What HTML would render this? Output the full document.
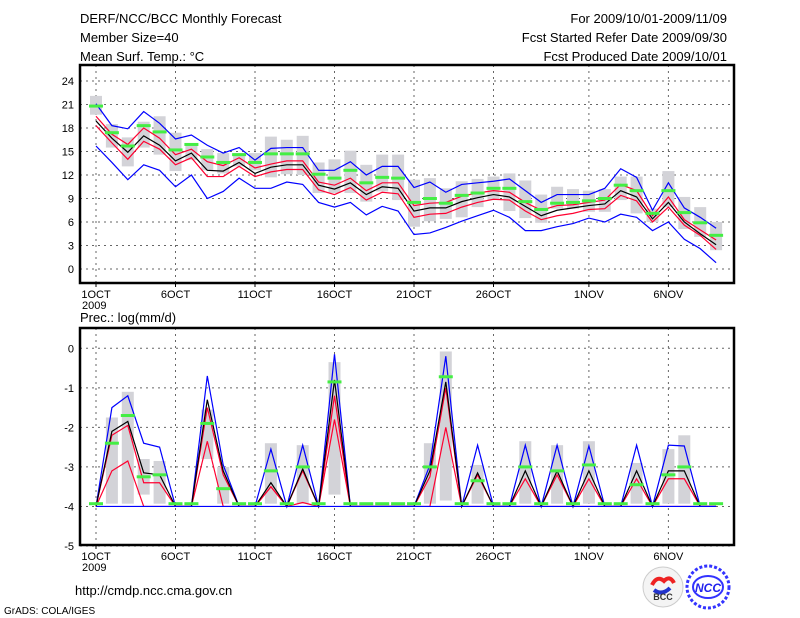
<!DOCTYPE html>
<html><head><meta charset="utf-8"><style>
html,body{margin:0;padding:0;background:#fff}
svg{display:block;font-family:"Liberation Sans",sans-serif}
</style></head><body>
<svg id="chart" width="800" height="618" viewBox="0 0 800 618" xmlns="http://www.w3.org/2000/svg">
<g font-size="13" fill="#000">
<text x="80" y="23">DERF/NCC/BCC Monthly Forecast</text>
<text x="80" y="42">Member Size=40</text>
<text x="80" y="61">Mean Surf. Temp.: °C</text>
<text x="727" y="23" text-anchor="end">For 2009/10/01-2009/11/09</text>
<text x="727" y="42" text-anchor="end">Fcst Started Refer Date 2009/09/30</text>
<text x="727" y="61" text-anchor="end">Fcst Produced Date 2009/10/01</text>
<text x="80" y="322">Prec.: log(mm/d)</text>
<text x="75" y="595" font-size="13">http://cmdp.ncc.cma.gov.cn</text>
<text x="4" y="614" font-size="10">GrADS: COLA/IGES</text>
</g>
<g id="top"></g>
<g id="bot"></g>
<g>
<circle cx="663" cy="587" r="20" fill="#f4f4f4" stroke="#ccc"/>
<path d="M652 585 q5 -10 12 -4 q6 -6 10 2" stroke="#e22" stroke-width="4" fill="none"/>
<path d="M654 590 q8 6 16 -2" stroke="#23c" stroke-width="4" fill="none"/>
<text x="663" y="600" font-size="9" font-weight="bold" text-anchor="middle" fill="#333">BCC</text>
</g>
<g>
<circle cx="708" cy="587" r="21" fill="none" stroke="#33f" stroke-width="3" stroke-dasharray="3 2"/>
<ellipse cx="708" cy="587" rx="15" ry="11" fill="none" stroke="#33f" stroke-width="2"/>
<text x="708" y="592" font-size="12" font-weight="bold" font-style="italic" text-anchor="middle" fill="#22e">NCC</text>
</g>
</svg>
<script>
// ---- Temperature data (40 days from 1 Oct) ----
const days = 40;
const dateLabels = ["1OCT","6OCT","11OCT","16OCT","21OCT","26OCT","1NOV","6NOV"];
const dateIdx = [0,5,10,15,20,25,31,36];
const tTicks = [0,3,6,9,12,15,18,21,24];
const tMean = [18.9,16.7,14.9,17.0,15.8,13.8,14.8,12.6,12.5,13.6,12.2,13.0,13.3,13.3,10.7,10.2,11.0,9.5,10.5,10.3,7.4,7.8,7.8,8.6,9.1,9.5,9.2,8.0,6.8,7.5,7.8,8.1,8.3,10.0,9.2,6.4,8.5,6.0,4.5,3.1];
const tRedHi = [19.5,17.2,15.9,18.0,16.7,14.6,15.3,13.7,13.2,14.2,12.9,13.4,13.8,13.8,11.1,10.7,11.6,10.0,11.0,11.0,8.1,8.4,8.5,9.3,9.7,10.0,9.8,8.5,7.5,8.1,8.2,8.5,8.8,10.8,10.0,6.8,9.2,6.3,5.0,3.7];
const tRedLo = [18.3,16.1,14.0,16.3,15.3,13.3,14.2,11.8,11.8,13.1,11.8,12.4,12.7,12.7,10.1,9.5,10.4,8.8,9.8,9.6,6.6,7.0,7.1,7.9,8.5,8.9,8.8,7.4,6.3,6.8,7.1,7.6,7.7,9.4,8.7,6.0,7.9,5.6,4.3,2.5];
const tBlueHi = [21.1,18.3,17.9,20.1,18.6,16.6,17.1,15.8,14.8,15.5,13.9,15.4,15.5,15.5,12.6,12.6,13.7,12.0,13.1,13.1,10.4,11.1,9.8,10.8,11.0,11.2,11.5,10.0,8.5,9.5,9.5,9.5,10.3,12.8,11.7,7.5,11.0,7.8,6.6,5.2];
const tBlueLo = [15.7,13.6,11.4,13.3,12.6,10.5,12.0,9.0,9.9,11.6,10.3,10.3,11.1,10.8,8.5,7.9,8.5,6.9,8.0,7.4,4.4,4.6,5.3,6.1,6.8,7.5,6.6,4.9,4.9,5.4,5.8,6.5,6.0,7.0,6.6,4.9,6.0,3.8,2.6,0.8];
const tGreen = [20.8,17.4,15.7,18.3,17.5,15.2,15.9,14.3,13.6,14.6,13.6,14.7,14.7,14.7,12.1,11.6,12.6,11.0,11.7,11.6,8.5,9.0,8.4,9.4,9.7,10.3,10.3,8.6,7.6,8.4,8.5,8.7,9.0,10.7,10.0,7.1,10.0,7.2,5.9,4.3];
const tBoxHi = [22.1,18.5,16.8,18.8,19.5,17.4,16.0,15.3,14.8,14.8,14.8,16.9,16.5,17.0,13.6,14.0,15.1,13.3,14.6,14.6,11.4,11.6,10.3,11.2,11.5,11.8,12.2,11.3,9.5,10.5,10.2,10.0,10.2,11.8,11.8,7.7,12.5,9.2,7.9,6.0];
const tBoxLo = [19.7,15.5,13.1,15.5,14.6,12.5,13.9,12.6,12.2,13.1,12.6,11.7,12.1,12.0,9.7,9.7,9.7,8.6,9.9,8.8,5.4,6.1,6.4,6.6,7.9,8.8,7.4,6.5,5.9,7.7,7.7,7.3,7.3,8.8,7.1,6.0,7.9,5.1,4.1,2.4];
// ---- Precipitation data (log mm/d) ----
const pTicks = [0,-1,-2,-3,-4,-5];
const pMean = [-4,-2.1,-1.85,-3.15,-3.2,-4,-4,-1.3,-3.1,-4,-4,-3.4,-4,-3.05,-4,-0.8,-4,-4,-4,-4,-4,-3.1,-0.85,-4,-3.15,-4,-4,-3.1,-4,-3.1,-4,-3.1,-4,-4,-3.1,-4,-3.1,-3.1,-4,-4];
const pRedHi = [-4,-2.2,-1.95,-3.4,-3.4,-4,-4,-1.5,-3.2,-4,-4,-3.5,-4,-3.1,-4,-1.2,-4,-4,-4,-4,-4,-3.25,-1.0,-4,-3.2,-4,-4,-3.3,-4,-3.2,-4,-3.3,-4,-4,-3.3,-4,-3.3,-3.3,-4,-4];
const pRedLo = [-4,-3.1,-2.85,-4,-4,-4,-4,-2.35,-4,-4,-4,-3.5,-4,-3.9,-4,-1.8,-4,-4,-4,-4,-4,-4,-2.0,-4,-4,-4,-4,-4,-4,-4,-4,-4,-4,-4,-4,-4,-4,-4,-4,-4];
const pBlueHi = [-4,-1.5,-1.2,-2.4,-2.5,-4,-4,-0.7,-2.95,-4,-4,-2.55,-4,-2.45,-4,-0.15,-4,-4,-4,-4,-4,-2.95,-0.2,-4,-2.45,-4,-4,-2.45,-4,-2.45,-4,-2.47,-4,-4,-2.45,-4,-2.45,-2.47,-4,-4];
const pBlueLo = [-4,-4,-4,-4,-4,-4,-4,-4,-4,-4,-4,-4,-4,-4,-4,-4,-4,-4,-4,-4,-4,-4,-4,-4,-4,-4,-4,-4,-4,-4,-4,-4,-4,-4,-4,-4,-4,-4,-4,-4];
const pGreen = [-3.93,-2.4,-1.7,-3.25,-3.2,-3.93,-3.93,-1.9,-3.55,-3.93,-3.93,-3.1,-3.93,-3.0,-3.93,-0.85,-3.93,-3.93,-3.93,-3.93,-3.93,-3.0,-0.72,-3.93,-3.35,-3.93,-3.93,-3.0,-3.93,-3.1,-3.93,-2.95,-3.93,-3.93,-3.45,-3.93,-3.2,-3.0,-3.93,-3.93];
const pBoxHi = [null,-1.75,-1.1,-2.8,-2.85,null,null,-1.55,-3.0,null,null,-2.4,null,-2.45,null,-0.35,null,null,null,null,null,-2.4,-0.08,null,-2.95,null,null,-2.35,null,-2.45,null,-2.35,null,null,-2.9,null,-2.55,-2.2,null,null];
const pBoxLo = [null,-3.93,-3.93,-3.7,-3.93,null,null,-2.8,-3.93,null,null,-3.93,null,-3.93,null,-3.7,null,null,null,null,null,-3.93,-3.85,null,-3.93,null,null,-3.93,null,-3.93,null,-3.93,null,null,-3.93,null,-3.93,-3.93,null,null];

const NS="http://www.w3.org/2000/svg";
function mk(parent,tag,attrs){const e=document.createElementNS(NS,tag);for(const k in attrs)e.setAttribute(k,attrs[k]);parent.appendChild(e);return e;}
const X0=96, DX=15.9, L=80, R=734;
const xs = i => X0 + i*DX;

function panel(g, top, bottom, vmin, vmax, ticks, series, boxes, green, tickFmt){
  const ys = v => bottom - (v - vmin)/(vmax - vmin)*(bottom - top);
  // grid
  ticks.forEach(t=>{
    const gl=mk(g,'line',{x1:L,x2:R,y1:ys(t),y2:ys(t),stroke:'#666','stroke-dasharray':'2 4','stroke-width':1});
    
    
    const tl=mk(g,'text',{x:L-6,y:ys(t)+4,'font-size':11,'text-anchor':'end'});
    tl.textContent=tickFmt(t);
    
    
  });
  dateIdx.forEach((d,k)=>{
    const gl=mk(g,'line',{x1:xs(d),x2:xs(d),y1:top,y2:bottom,stroke:'#666','stroke-dasharray':'2 4','stroke-width':1});
    
    
  });
  // boxes
  for(let i=0;i<days;i++){
    if(boxes[0][i]==null) continue;
    const r=mk(g,'rect',{x:xs(i)-6,y:ys(boxes[0][i]),width:12,height:Math.max(1,ys(boxes[1][i])-ys(boxes[0][i])),fill:'#d3d3d8'});
    
    
  }
  // lines
  series.forEach(s=>{
    const p=mk(g,'polyline',{points:s.d.map((v,i)=>xs(i)+','+ys(v)).join(' '),fill:'none',stroke:s.c,'stroke-width':1.2});
    
    
  });
  // green marks
  green.forEach((v,i)=>{
    const r=mk(g,'rect',{x:xs(i)-7,y:ys(v)-1.5,width:14,height:3,fill:'#44ee44'});
    
    
  });
  // frame
  const f=mk(g,'rect',{x:L,y:top,width:R-L,height:bottom-top,fill:'none',stroke:'#000','stroke-width':2.5});
  
  
  dateLabels.forEach((lab,k)=>{
    const t=mk(g,'text',{x:xs(dateIdx[k]),y:bottom+15,'font-size':11,'text-anchor':'middle'});
    t.textContent=lab;
    
    
    mk(g,'line',{x1:xs(dateIdx[k]),x2:xs(dateIdx[k]),y1:bottom,y2:bottom+4,stroke:'#000'});
  });
  const yr=mk(g,'text',{x:82,y:bottom+26,'font-size':11});
  yr.textContent='2009';
  
  
}
// Top panel: 0 at y=269, 24 at y=81; frame 65..283
(function(){
  const g=document.getElementById('top');
  const top=65,bottom=283; const vPerPx=24/(269-81);
  panel(g,top,bottom,-(bottom-269)*vPerPx,24+(81-top)*vPerPx,tTicks,
    [{d:tBlueHi,c:'#0000ff',n:'max-line'},{d:tBlueLo,c:'#0000ff',n:'min-line'},
     {d:tRedHi,c:'#ff0030',n:'upper-sd-line'},{d:tRedLo,c:'#ff0030',n:'lower-sd-line'},
     {d:tMean,c:'#000',n:'ensemble-mean-line'}],
    [tBoxHi,tBoxLo],tGreen,t=>String(t));
})();
// Bottom panel: 0 at y=348.3, -5 at y=546; frame 328..545
(function(){
  const g=document.getElementById('bot');
  const top=328,bottom=545; const vPerPx=5/(546-348.3);
  panel(g,top,bottom,-5-(bottom-546)*vPerPx,(348.3-top)*vPerPx,pTicks,
    [{d:pBlueHi,c:'#0000ff',n:'max-line'},{d:pRedLo,c:'#ff0030',n:'lower-sd-line'},
     {d:pRedHi,c:'#ff0030',n:'upper-sd-line'},{d:pMean,c:'#000',n:'ensemble-mean-line'},
     {d:pBlueLo,c:'#0000ff',n:'min-line'}],
    [pBoxHi,pBoxLo],pGreen,t=>String(t).replace('-','−').replace('−','-'));
})();
</script>
</body></html>
